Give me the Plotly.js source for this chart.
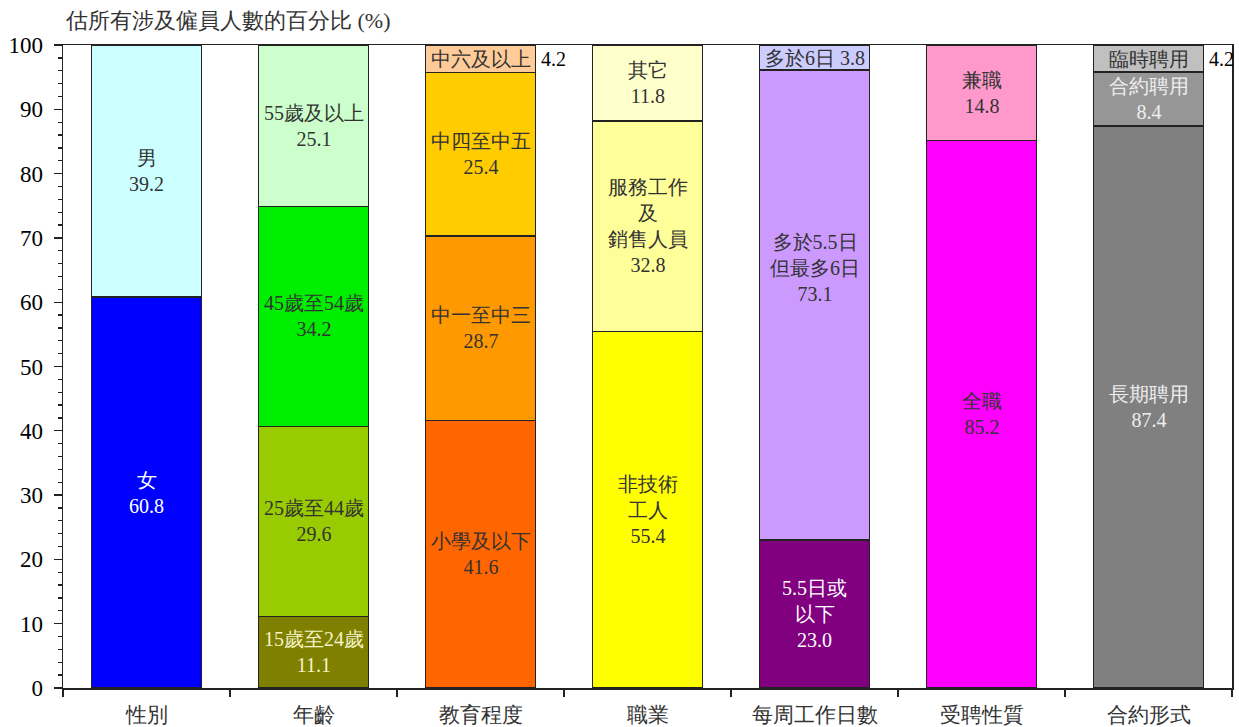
<!DOCTYPE html>
<html><head><meta charset="utf-8">
<script src="https://cdn.plot.ly/plotly-3.0.1.min.js"></script>
<style>html,body{margin:0;padding:0;background:#fff}#chart{width:1239px;height:727px}</style>
</head><body><div id="chart"></div>
<script>
const categories = ['性別','年齡','教育程度','職業','每周工作日數','受聘性質','合約形式'];

const level1Values = [60.8, 11.1, 41.6, 55.4, 23.0, 85.2, 87.4];
const level2Values = [39.2, 29.6, 28.7, 32.8, 73.1, 14.8, 8.4];
const level3Values = [null, 34.2, 25.4, 11.8, 3.8, null, 4.2];
const level4Values = [null, 25.1, 4.2, null, null, null, null];

const level1Labels = ['女', '15歲至24歲', '小學及以下', '非技術<br>工人', '5.5日或<br>以下', '全職', '長期聘用'];
const level2Labels = ['男', '25歲至44歲', '中一至中三', '服務工作<br>及<br>銷售人員', '多於5.5日<br>但最多6日', '兼職', '合約聘用'];
const level3Labels = [null, '45歲至54歲', '中四至中五', '其它', '多於6日', null, '臨時聘用'];
const level4Labels = [null, '55歲及以上', '中六及以上', null, null, null, null];

// styling (not data)
const level1Colors = ['#0000FF', '#808000', '#FF6600', '#FFFF00', '#800080', '#FF00FF', '#808080'];
const level2Colors = ['#CCFFFF', '#99CC00', '#FF9900', '#FFFF99', '#CC99FF', '#FF99CC', '#969696'];
const level3Colors = [null, '#00EE00', '#FFCC00', '#FFFFCC', '#CCCCFF', null, '#C0C0C0'];
const level4Colors = [null, '#CCFFCC', '#FFCC99', null, null, null, null];

const level1TextColors = ['#FFFFFF', '#F4F4C8', '#333', '#333', '#FFFFFF', '#333', '#EEEEEE'];
const level2TextColors = ['#333', '#333', '#333', '#333', '#333', '#333', '#EEEEEE'];
const level3TextColors = [null, '#333', '#333', '#333', '#333', null, '#333'];
const level4TextColors = [null, '#333', '#333', null, null, null, null];

// label layout modes: 'stack' = label above value; 'inline' = label and value on one line; 'outside' = value to the right of bar
const level3Modes = [null, 'stack', 'stack', 'stack', 'inline', null, 'outside'];
const level4Modes = [null, 'stack', 'outside', null, null, null, null];
const level2YShift = [0, 0, 0, 0, 37, 0, 0];

const FONT = 'Liberation Serif';
const LABEL_SIZE = 20;
const levels = [
  {v: level1Values, l: level1Labels, c: level1Colors, t: level1TextColors, m: null, ys: null},
  {v: level2Values, l: level2Labels, c: level2Colors, t: level2TextColors, m: null, ys: level2YShift},
  {v: level3Values, l: level3Labels, c: level3Colors, t: level3TextColors, m: level3Modes, ys: null},
  {v: level4Values, l: level4Labels, c: level4Colors, t: level4TextColors, m: level4Modes, ys: null}
];

const traces = [];
const annotations = [];
const base = categories.map(() => 0);
levels.forEach((lv) => {
  traces.push({
    type: 'bar', x: categories, y: lv.v,
    marker: {color: lv.c.map(c => c || '#fff'), line: {color: '#222', width: 1.3}},
    hoverinfo: 'x+y', showlegend: false
  });
  categories.forEach((cat, i) => {
    const v = lv.v[i];
    if (v === null || v === undefined) return;
    const mid = base[i] + v / 2;
    const mode = lv.m ? lv.m[i] : 'stack';
    const font = {family: FONT, size: LABEL_SIZE, color: lv.t[i]};
    if (mode === 'stack') {
      annotations.push({x: cat, y: mid, xref: 'x', yref: 'y', text: lv.l[i] + '<br>' + v.toFixed(1),
        showarrow: false, font: font, yshift: lv.ys ? lv.ys[i] : 0});
    } else if (mode === 'inline') {
      annotations.push({x: cat, y: mid, xref: 'x', yref: 'y', text: lv.l[i] + ' ' + v.toFixed(1),
        showarrow: false, font: font});
    } else {
      annotations.push({x: cat, y: mid, xref: 'x', yref: 'y', text: lv.l[i],
        showarrow: false, font: font});
      annotations.push({x: cat, y: mid, xref: 'x', yref: 'y', text: v.toFixed(1),
        showarrow: false, xanchor: 'left', xshift: 58, font: {family: FONT, size: LABEL_SIZE, color: '#000'}});
    }
    base[i] += v;
  });
});

annotations.push({xref: 'paper', yref: 'paper', x: 0, y: 1, xanchor: 'left', yanchor: 'bottom', yshift: 10,
  text: '估所有涉及僱員人數的百分比 (%)', showarrow: false, font: {family: FONT, size: 22, color: '#333'}});

const layout = {
  width: 1239, height: 727,
  margin: {l: 63, r: 7, t: 45, b: 39},
  barmode: 'stack', bargap: 0.34,
  paper_bgcolor: '#fff', plot_bgcolor: '#fff',
  font: {family: FONT, color: '#000'},
  xaxis: {
    type: 'category', range: [-0.5, 6.5], tickson: 'boundaries',
    ticks: 'outside', ticklen: 7, tickcolor: '#222', tickwidth: 1.3,
    showline: true, linecolor: '#222', linewidth: 1.5, mirror: true, ticklabelstandoff: 7,
    showgrid: false, tickfont: {family: FONT, size: 21, color: '#333'}, fixedrange: true
  },
  yaxis: {
    range: [0, 100], dtick: 10, ticks: 'outside', ticklen: 8, tickcolor: '#222', tickwidth: 1.3,
    minor: {dtick: 2, ticks: 'outside', ticklen: 4, tickcolor: '#222', showgrid: false},
    showline: true, linecolor: '#222', linewidth: 1.5, mirror: true, ticklabelstandoff: 6,
    showgrid: false, zeroline: false, tickfont: {family: FONT, size: 23, color: '#000'}, fixedrange: true
  },
  annotations: annotations
};

Plotly.newPlot('chart', traces, layout, {displayModeBar: false, staticPlot: true});
</script></body></html>
